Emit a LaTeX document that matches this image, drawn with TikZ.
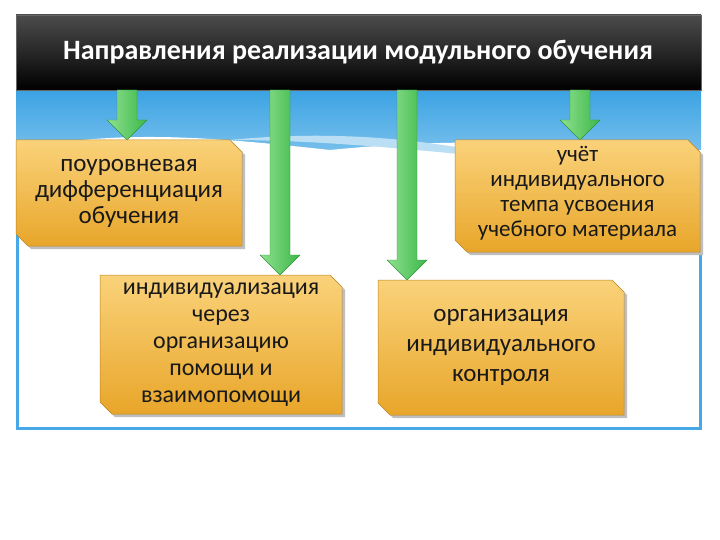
\documentclass[tikz,border=0pt]{standalone}
\usepackage{fontspec}
\setmainfont{Carlito}
\usetikzlibrary{calc}
\definecolor{boxa}{HTML}{FAD27A}
\definecolor{boxb}{HTML}{E8A62A}
\definecolor{sky}{HTML}{3BA3E3}
\definecolor{frame}{HTML}{46A8E6}
\definecolor{ga}{HTML}{8EE08E}
\definecolor{gb}{HTML}{3DB84A}
\tikzset{
 boxtxt/.style={font=\fontsize{25}{26}\selectfont, align=center, text=black!90},
}
\newcommand{\foldbox}[5]{% name, x1,y1,x2,y2
 \fill[black!25] (#2+3,#3+3) -- (#4-12+3,#3+3) -- (#4+3,#3+12+3) -- (#4+3,#5+3) -- (#2+12+3,#5+3) -- (#2+3,#5-12+3) -- cycle;
 \shade[top color=boxa,bottom color=boxb,draw=boxb!80!black,line width=0.5pt] (#2,#3) -- (#4-12,#3) -- (#4,#3+12) -- (#4,#5) -- (#2+12,#5) -- (#2,#5-12) -- cycle;
 \coordinate (#1) at ({(#2+#4)/2},{(#3+#5)/2});
}
\newcommand{\garrow}[3]{% x, ytop, ybot
 \shade[left color=ga,right color=gb,draw=gb!80!black,line width=0.4pt] (#1-10,#2) -- (#1+10,#2) -- (#1+10,#3-20) -- (#1+20,#3-20) -- (#1,#3) -- (#1-20,#3-20) -- (#1-10,#3-20) -- cycle;
}
\begin{document}
\begin{tikzpicture}[x=1pt,y=-1pt]
\useasboundingbox (0,0) rectangle (720,540);
\fill[white] (0,0) rectangle (720,540);
% sky
\shade[top color=sky,bottom color=sky!70] (16,90) rectangle (701,150);
\fill[white] (16,150) .. controls (120,128) and (220,138) .. (330,150) .. controls (450,138) and (560,140) .. (701,160) -- (701,240) -- (16,240) -- cycle;
\fill[sky!35] (230,140) .. controls (330,130) and (430,138) .. (520,160) .. controls (420,150) and (320,140) .. (230,140) -- cycle;
% frame
\draw[frame,line width=3pt] (17,235) -- (17,428) -- (700,428) -- (700,240);
% header
\shade[top color=black!70,bottom color=black,draw=black!60] (16,15) rectangle (701,90);
\node[text=white,font=\fontsize{28}{30}\selectfont\bfseries] (head) at (358,52) {Направления реализации модульного обучения};
% arrows
\garrow{127}{90}{140}
\garrow{280}{90}{275}
\garrow{407}{90}{280}
\garrow{580}{90}{140}
% boxes
\foldbox{b1}{16}{140}{242}{246}
\foldbox{b2}{100}{275}{342}{414}
\foldbox{b3}{455}{140}{700}{252}
\foldbox{b4}{378}{280}{624}{415}
\node[boxtxt] (t1) at (b1) {поуровневая\\дифференциация\\обучения};
\node[boxtxt,font=\fontsize{24}{27}\selectfont] (t2) at (b2) {индивидуализация\\через\\организацию\\помощи и\\взаимопомощи};
\node[boxtxt,font=\fontsize{23}{25}\selectfont] (t3) at ($(b3)+(0,-3)$) {учёт\\индивидуального\\темпа усвоения\\учебного материала};
\node[boxtxt,font=\fontsize{25}{30}\selectfont] (t4) at (b4) {организация\\индивидуального\\контроля};
\end{tikzpicture}
\end{document}
